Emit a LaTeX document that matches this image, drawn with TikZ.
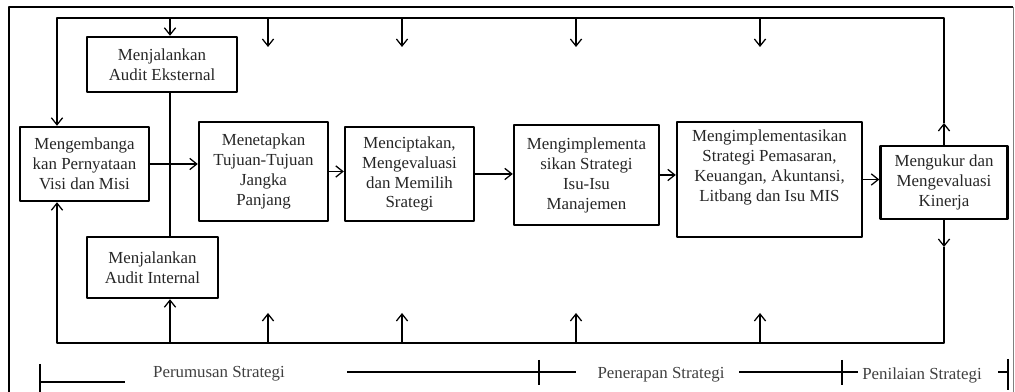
\documentclass[tikz,border=0pt]{standalone}
\usepackage{fontspec}
\setmainfont{Liberation Serif}
\usetikzlibrary{arrows.meta}
\begin{document}
\begin{tikzpicture}[x=0.025cm,y=-0.025cm,line join=round,>={Straight Barb[length=5pt,width=8pt]},
	font=\fontsize{12}{14.2}\selectfont,
	box/.style 2 args={draw,line width=1.7pt,align=center,inner sep=0pt,text=black!85,minimum width=#1*\px,minimum height=#2*\px},
	con/.style={line width=0.9pt}]
	\def\px{0.025cm}
	\useasboundingbox(0,0)rectangle(1015,392);
	\draw[line width=1.3pt](9,400)--(9,7)--(1013,7);
	\draw[line width=0.6pt,black!50](1013,7)--(1013,400);
	\node[box={129}{74}](misi)at(84.5,164){Mengembanga\\kan Pernyataan\\Visi dan Misi};
	\node[box={150}{55}](eks)at(162,64.5){Menjalankan\\Audit Eksternal};
	\node[box={131}{61}](int)at(152.5,267.5){Menjalankan\\Audit Internal};
	\node[box={129}{99}](tetap)at(263.5,171.5){Menetapkan\\Tujuan-Tujuan\\Jangka\\Panjang};
	\node[box={129}{94}](cipta)at(409.5,174){Menciptakan,\\Mengevaluasi\\dan Memilih\\Srategi};
	\node[box={145}{100}](isu)at(586.5,175){Mengimplementa\\sikan Strategi\\Isu-Isu\\Manajemen};
	\node[box={185}{115}](pasar)at(769.5,179.5){Mengimplementasikan\\Strategi Pemasaran,\\Keuangan, Akuntansi,\\Litbang dan Isu MIS\\[6pt]};
	\node[box={127}{73}](ukur)at(944,182.5){Mengukur dan\\Mengevaluasi\\Kinerja};
	% feedback loop
	\path(57,18)coordinate(tl)(ukur.north|-tl)coordinate(tr)(57,343)coordinate(bl)(ukur.south|-bl)coordinate(br)
	(944,123)coordinate(ru)(944,247)coordinate(rd);
	\draw[con,->](ukur.north)--(ru);
	\draw[con,->](ru)--(tr)--(tl)--(tl|-misi.north);
	\draw[con,->](ukur.south)--(rd);
	\draw[con,->](rd)--(br)--(bl)--(bl|-misi.south);
	\foreach \n/\x in{1/170,2/268,3/402,4/576,5/760}
	\path(\x,18)coordinate(t\n)(\x,343)coordinate(b\n)(\x,47)coordinate(td\n)(\x,313)coordinate(bu\n);
	\draw[con,->](t1)--(t1|-eks.north);
	\draw[con,->](b1)--(b1|-int.south);
	\draw[con](t1|-eks.south)--(t1|-int.north);
	\foreach \n in{2,...,5}{\draw[con,->](t\n)--(td\n);\draw[con,->](b\n)--(bu\n);}
	\foreach \a/\b in{misi/tetap,tetap/cipta,cipta/isu,isu/pasar,pasar/ukur}
	\draw[con,->](\a.east)--(\a.east-|\b.west);
	% legend
	\begin{scope}[line width=0.8pt,every node/.style={text=black!75}]
	\node(rumus)at(219,374){Perumusan Strategi};
	\node(terap)at(661,375){Penerapan Strategi};
	\node(nilai)at(922,375){Penilaian Strategi};
	\draw(40,364)--(40,395)(40,382)--(125,382);
	\draw(347,372)--(576,372)(539,360)--(539,385);
	\draw(739,372)--(858,372)(842,360)--(842,385);
	\draw(998,372)--(1008,372)(1008,359)--(1008,390);
	\end{scope}
\end{tikzpicture}
\end{document}
